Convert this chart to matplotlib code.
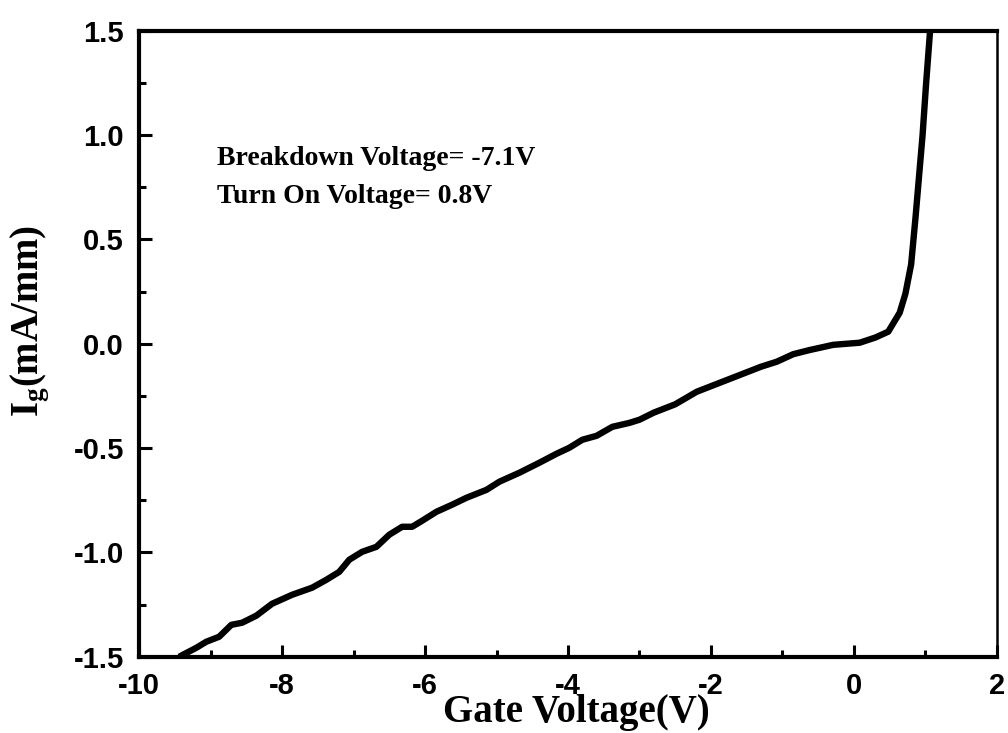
import matplotlib
matplotlib.use("Agg")
import matplotlib.pyplot as plt
from matplotlib.ticker import MultipleLocator, FormatStrFormatter

plt.rcParams['mathtext.fontset'] = 'custom'
plt.rcParams['mathtext.rm'] = 'Liberation Serif:bold'
plt.rcParams['mathtext.it'] = 'Liberation Serif:bold'
plt.rcParams['mathtext.bf'] = 'Liberation Serif:bold'

gate_voltage = [-9.44, -9.20, -9.06, -8.88, -8.71, -8.56, -8.36, -8.14, -7.86, -7.58,
                -7.38, -7.20, -7.06, -6.88, -6.68, -6.50, -6.32, -6.18, -6.04, -5.84,
                -5.62, -5.42, -5.14, -4.96, -4.68, -4.40, -4.16, -3.98, -3.80, -3.60,
                -3.38, -3.14, -3.00, -2.80, -2.50, -2.20, -1.90, -1.60, -1.30, -1.08,
                -0.85, -0.62, -0.29, 0.08, 0.30, 0.48, 0.64, 0.72, 0.80, 0.86,
                0.91, 0.96, 1.01, 1.065]
gate_current = [-1.500, -1.457, -1.428, -1.404, -1.347, -1.337, -1.303, -1.246, -1.203, -1.169,
                -1.131, -1.093, -1.035, -0.997, -0.973, -0.915, -0.877, -0.877, -0.848, -0.805,
                -0.771, -0.738, -0.700, -0.661, -0.618, -0.570, -0.527, -0.498, -0.460, -0.441,
                -0.398, -0.379, -0.364, -0.330, -0.290, -0.230, -0.190, -0.150, -0.110, -0.086,
                -0.050, -0.030, -0.005, 0.005, 0.030, 0.058, 0.149, 0.240, 0.380, 0.600,
                0.800, 1.000, 1.250, 1.500]

annotations = ["Breakdown Voltage= -7.1V", "Turn On Voltage= 0.8V"]

fig = plt.figure(figsize=(10.08, 7.33), dpi=100)
ax = fig.add_axes([0.138, 0.104, 0.851, 0.854])
ax.plot(gate_voltage, gate_current, color='black', lw=4.6, solid_capstyle='butt',
        solid_joinstyle='round')
ax.set_xlim(-10, 2)
ax.set_ylim(-1.5, 1.5)

ax.xaxis.set_major_locator(MultipleLocator(2))
ax.xaxis.set_minor_locator(MultipleLocator(1))
ax.yaxis.set_major_locator(MultipleLocator(0.5))
ax.yaxis.set_minor_locator(MultipleLocator(0.25))
ax.yaxis.set_major_formatter(FormatStrFormatter('%.1f'))
ax.xaxis.set_major_formatter(FormatStrFormatter('%d'))

ax.tick_params(which='major', direction='in', length=9, width=2.2, top=False, right=False,
               pad=11)
ax.tick_params(which='minor', direction='in', length=5, width=2.2, top=False, right=False)
for lbl in ax.get_xticklabels() + ax.get_yticklabels():
    lbl.set_fontfamily('Liberation Sans')
    lbl.set_fontweight('bold')
    lbl.set_fontsize(21)
ax.tick_params(axis='x', pad=11)

for s in ['left', 'bottom', 'top']:
    ax.spines[s].set_linewidth(3)
ax.spines['right'].set_linewidth(1.8)

ax.set_xlabel('Gate Voltage(V)', fontfamily='Liberation Serif', fontweight='bold',
              fontsize=28, va='baseline')
ax.xaxis.set_label_coords(0.51, -0.105)
ax.set_ylabel(r'$\mathrm{I_g}$(mA/mm)', fontfamily='Liberation Serif', fontweight='bold',
              fontsize=28)
ax.yaxis.set_label_coords(-0.102, 0.537)

ax.text(0.091, 0.786, annotations[0], transform=ax.transAxes, fontfamily='Liberation Serif',
        fontweight='bold', fontsize=20, va='baseline')
ax.text(0.091, 0.725, annotations[1], transform=ax.transAxes, fontfamily='Liberation Serif',
        fontweight='bold', fontsize=20, va='baseline')

fig.savefig('out.png', dpi=100)
